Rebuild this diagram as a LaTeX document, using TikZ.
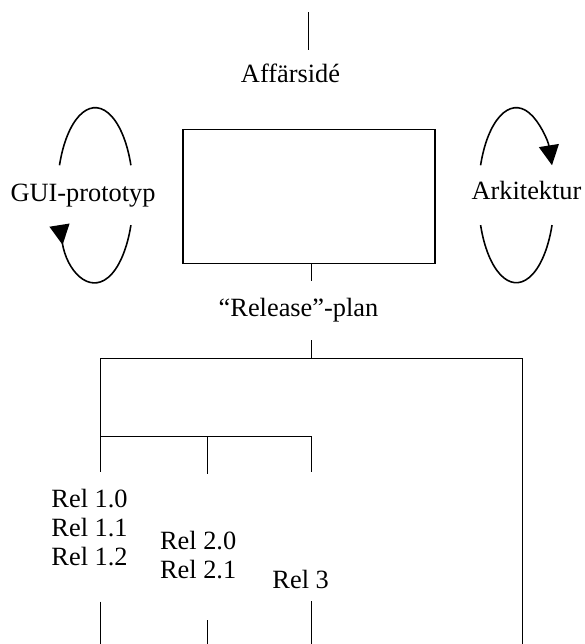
\documentclass[tikz,border=0pt]{standalone}
\usepackage{fontspec}
\setmainfont{Liberation Serif}
\usepackage{tikz}
\usetikzlibrary{arrows.meta,positioning}
\tikzset{
block/.style = {draw, fill=white, rectangle, minimum width=5.05cm, minimum height=2.68cm},
caption/.style = {inner sep=0pt, anchor=base},
releases/.style = {inner sep=0pt, align=left, anchor=base west},
}

\begin{document}
\begin{tikzpicture}[line width=0.9pt, >={Triangle[length=4mm,width=4mm]},
    font=\fontsize{15}{16.5}\selectfont]
      \useasboundingbox (0,0) rectangle (11.68,-12.88);
      % the plan in the middle and what feeds it
      \node [block] (plan) at (6.18,-3.93) {};
      \node [caption] (idea) at (5.81,-1.65) {Affärsidé};
      \node [caption] (gui) at (1.66,-4.03) {GUI-prototyp};
      \node [caption] (arch) at (10.53,-4.0) {Arkitektur};
      \node [caption] (release) at (5.97,-6.32) {“Release”-plan};
      \coordinate (top) at (6.17,-0.25);
      \coordinate (topend) at (6.17,-1.01);
      \draw (top) -- (topend);
      % loops round the side labels
      \coordinate (guiloop) at (1.904,-3.904);
      \coordinate (archloop) at (10.326,-3.904);
      \draw ([shift={(160:0.76 and 1.75)}]guiloop) arc [start angle=160, end angle=20, x radius=0.76, y radius=1.75];
      \draw [{Triangle[length=4mm,width=4mm,reversed]}-] ([shift={(200:0.76 and 1.75)}]guiloop) arc [start angle=200, end angle=340, x radius=0.76, y radius=1.75];
      \draw [->] ([shift={(160:0.76 and 1.75)}]archloop) arc [start angle=160, end angle=20, x radius=0.76, y radius=1.75];
      \draw ([shift={(200:0.76 and 1.75)}]archloop) arc [start angle=200, end angle=340, x radius=0.76, y radius=1.75];
      % ticks above and below the release plan
      \coordinate (planfork) at (6.234,-5.614);
      \draw (plan.south -| planfork) -- (planfork);
      \coordinate (relstub) at (6.234,-6.8);
      \coordinate (relfork) at (6.234,-7.17);
      \draw (relstub) -- (relfork);
      % the release tree
      \coordinate (left) at (2.006,-7.17);
      \coordinate (right) at (10.45,-7.17);
      \coordinate (rightend) at (10.45,-12.88);
      \coordinate (sub1) at (2.006,-8.734);
      \coordinate (sub2) at (4.146,-8.734);
      \coordinate (sub3) at (6.234,-8.734);
      \coordinate (leg1) at (2.006,-9.434);
      \coordinate (leg2) at (4.146,-9.48);
      \coordinate (leg3) at (6.234,-9.434);
      \draw (rightend) -- (right) -- (left) -- (leg1);
      \draw (sub1) -- (sub3) -- (leg3);
      \draw (sub2) -- (leg2);
      % anchor sits on the last line of each list
      \node [releases] (rel1) at (1.014,-11.314) {Rel 1.0\\Rel 1.1\\Rel 1.2};
      \node [releases] (rel2) at (3.186,-11.56) {Rel 2.0\\Rel 2.1};
      \node [releases] (rel3) at (5.434,-11.766) {Rel 3};
      % stubs leaving the bottom
      \coordinate (stub1) at (2.006,-12.03);
      \coordinate (stub2) at (4.146,-12.4);
      \coordinate (stub3) at (6.234,-12.02);
      \draw (stub1) -- (stub1 |- rightend);
      \draw (stub2) -- (stub2 |- rightend);
      \draw (stub3) -- (stub3 |- rightend);
\end{tikzpicture}
\end{document}
